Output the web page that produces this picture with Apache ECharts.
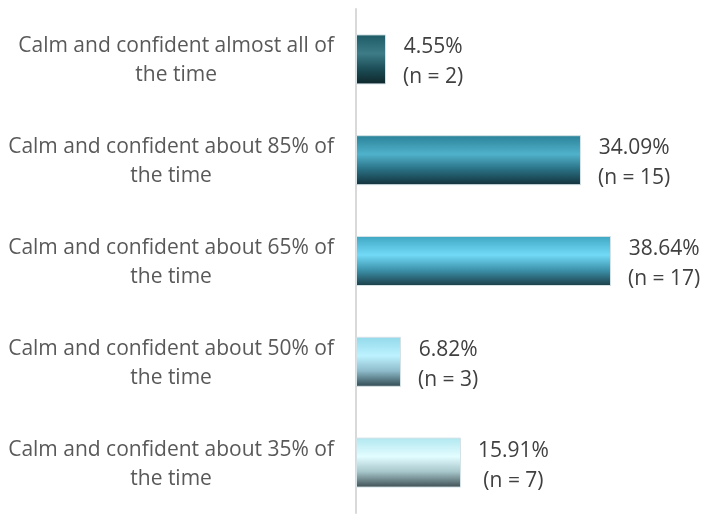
<!DOCTYPE html>
<html>
<head>
<meta charset="utf-8">
<script src="https://cdn.jsdelivr.net/npm/echarts@6/dist/echarts.min.js"></script>
<style>
  html, body { margin: 0; padding: 0; background: #ffffff; }
  #chart { width: 706px; height: 514px; }
</style>
</head>
<body>
<div id="chart"></div>
<script>
const categories = [
  "Calm and confident almost all of the time",
  "Calm and confident about 85% of the time",
  "Calm and confident about 65% of the time",
  "Calm and confident about 50% of the time",
  "Calm and confident about 35% of the time"
];
const percentValues = [4.55, 34.09, 38.64, 6.82, 15.91];
const counts = [2, 15, 17, 3, 7];

const barGradients = [
  ["#1d5a66", "#3d7c87", "#1d4f58", "#0e262b"],
  ["#2a8197", "#50b2cb", "#2a7185", "#12313a"],
  ["#3fa6c2", "#72daf7", "#3d93ab", "#1b3c45"],
  ["#92d9ea", "#bdf2ff", "#8fbccb", "#2f484f"],
  ["#b0e7f0", "#e3fdff", "#a7c7cc", "#3c4d51"]
];

const FONT = "Open Sans";

function grad(c) {
  return new echarts.graphic.LinearGradient(0, 0, 0, 1, [
    { offset: 0, color: c[0] },
    { offset: 0.38, color: c[1] },
    { offset: 0.68, color: c[2] },
    { offset: 1, color: c[3] }
  ]);
}

const chart = echarts.init(document.getElementById('chart'), null, { renderer: 'canvas' });
chart.setOption({
  animation: false,
  backgroundColor: '#ffffff',
  grid: { left: 356, top: 9, width: 330, height: 504, containLabel: false },
  xAxis: {
    type: 'value', min: 0, max: 50,
    show: false,
    splitLine: { show: false }
  },
  yAxis: {
    type: 'category',
    data: categories,
    inverse: true,
    axisLine: { show: true, lineStyle: { color: '#d9d9d9', width: 2 } },
    axisTick: { show: false },
    splitLine: { show: false },
    axisLabel: {
      margin: 22,
      formatter: function (v) {
        const parts = v.replace(' the time', '\nthe time').split('\n');
        return parts.map(p => '{c|' + p + '}').join('\n');
      },
      rich: {
        c: { align: 'center', fontFamily: FONT, fontSize: 21, lineHeight: 29, color: '#595959', padding: [3, 0, 0, 0] }
      }
    }
  },
  series: [{
    type: 'bar',
    barWidth: 50,
    data: percentValues.map((v, i) => ({
      value: v,
      itemStyle: { color: grad(barGradients[i]), borderColor: '#d4e2e6', borderWidth: 1 }
    })),
    label: {
      show: true,
      position: 'right',
      distance: 17,
      offset: [0, 3],
      formatter: function (p) {
        return '{v|' + percentValues[p.dataIndex].toFixed(2) + '%}\n{v|(n = ' + counts[p.dataIndex] + ')}';
      },
      rich: {
        v: { align: 'center', fontFamily: FONT, fontSize: 21, lineHeight: 30, color: '#404040' }
      }
    }
  }]
});
</script>
</body>
</html>
